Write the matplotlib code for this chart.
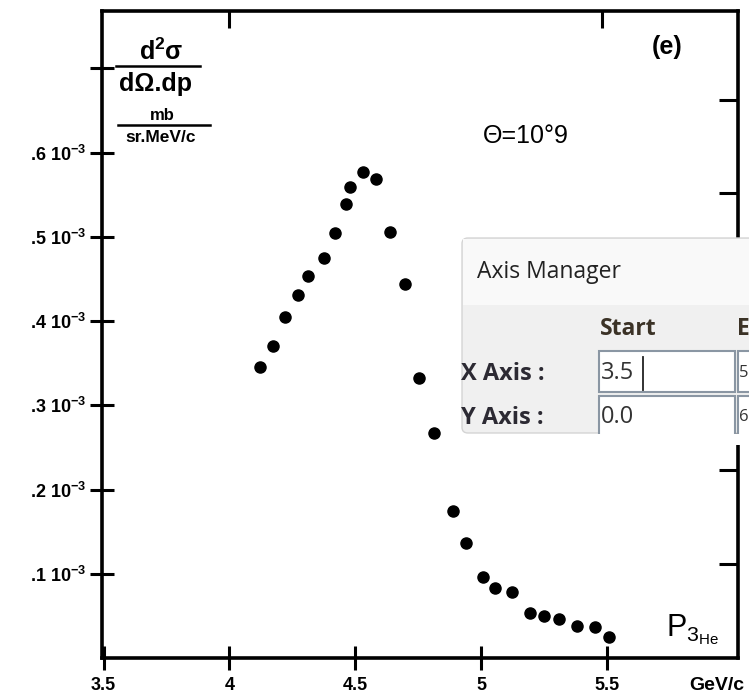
import matplotlib.pyplot as plt
from matplotlib.patches import Rectangle, FancyBboxPatch
from matplotlib.lines import Line2D

# momentum of 3He (GeV/c) and cross section (units of 1e-3 mb/sr.MeV/c)
p_he = [4.123, 4.175, 4.222, 4.274, 4.313, 4.377, 4.421, 4.464, 4.480, 4.532,
        4.583, 4.639, 4.698, 4.754, 4.813, 4.889, 4.940, 5.008, 5.056, 5.123,
        5.194, 5.250, 5.310, 5.381, 5.452, 5.508]
xsec = [0.346, 0.370, 0.405, 0.431, 0.453, 0.475, 0.505, 0.539, 0.559, 0.577,
        0.568, 0.506, 0.444, 0.332, 0.267, 0.175, 0.137, 0.096, 0.083, 0.078,
        0.053, 0.050, 0.046, 0.038, 0.037, 0.025]

x_ticks = [3.5, 4, 4.5, 5, 5.5]
x_labels = ['3.5', '4', '4.5', '5', '5.5']
y_ticks = [0.1, 0.2, 0.3, 0.4, 0.5, 0.6]
y_labels = ['.1 10$^{-3}$', '.2 10$^{-3}$', '.3 10$^{-3}$',
            '.4 10$^{-3}$', '.5 10$^{-3}$', '.6 10$^{-3}$']

plt.rcParams['font.family'] = ['Liberation Sans', 'DejaVu Sans']
plt.rcParams['mathtext.fontset'] = 'custom'
plt.rcParams['mathtext.rm'] = 'Liberation Sans:bold'
plt.rcParams['mathtext.it'] = 'Liberation Sans:bold'

W, H = 749, 697
fig = plt.figure(figsize=(W / 100, H / 100), dpi=100)


def fx(x):
    return x / W


def fy(y):
    return 1 - y / H


ax = fig.add_axes([fx(102), fy(658), fx(738) - fx(102), fy(11) - fy(658)])
ax.scatter(p_he, xsec, s=64, color='black', zorder=3)

ax.set_xlim(3.494, 6.02)
ax.set_ylim(0, 0.768)
ax.set_xticks(x_ticks)
ax.set_xticklabels(x_labels, fontsize=13, fontweight='bold')
ax.set_yticks(y_ticks + [0.7])
ax.set_yticklabels(y_labels + [''], fontsize=13, fontweight='bold')
ax.tick_params(axis='both', direction='inout', length=17, width=2.2, pad=3)
ax.tick_params(axis='x', pad=5)
for s in ax.spines.values():
    s.set_linewidth(2.6)

# ticks on the right and top spines
rt = ax.twinx()
rt.set_ylim(ax.get_ylim())
rt.set_yticks([0.111, 0.223, 0.552, 0.662])
rt.set_yticklabels([])
rt.tick_params(direction='in', length=14, width=2.2)
tp = ax.twiny()
tp.set_xlim(ax.get_xlim())
tp.set_xticks([4.0, 5.48])
tp.set_xticklabels([])
tp.tick_params(direction='in', length=12, width=2.2)
for a in (rt, tp):
    for s in a.spines.values():
        s.set_visible(False)

# y label as stacked fractions
fig.text(fx(161), fy(52), 'd$^2$σ', ha='center', va='center', fontsize=18, fontweight='bold')
fig.add_artist(Line2D([fx(116), fx(200)], [fy(66), fy(66)], color='black', lw=1.8))
fig.text(fx(156), fy(84), 'dΩ.dp', ha='center', va='center', fontsize=18, fontweight='bold')
fig.text(fx(162), fy(116), 'mb', ha='center', va='center', fontsize=12, fontweight='bold')
fig.add_artist(Line2D([fx(118), fx(210)], [fy(125), fy(125)], color='black', lw=1.8))
fig.text(fx(161), fy(138), 'sr.MeV/c', ha='center', va='center', fontsize=12.5, fontweight='bold')

fig.text(fx(526), fy(136), 'Θ=10°9', ha='center', va='center', fontsize=18)
fig.text(fx(667), fy(47), '(e)', ha='center', va='center', fontsize=18, fontweight='bold')
fig.text(fx(693), fy(630), r'$\mathregular{P_{3_{He}}}$', ha='center', va='center', fontsize=22)
fig.text(fx(717), fy(685), 'GeV/c', ha='center', va='center', fontsize=14, fontweight='bold')

# Axis Manager window laid over the scan
win = ['Open Sans', 'DejaVu Sans']
fig.add_artist(FancyBboxPatch((fx(462), fy(433)), fx(760) - fx(462), fy(238) - fy(433),
                              boxstyle='round,pad=0,rounding_size=0.008',
                              facecolor='#f0f0f0', edgecolor='#d4d4d4', lw=1, zorder=5))
fig.add_artist(Rectangle((fx(463), fy(305)), fx(760) - fx(463), fy(239) - fy(305),
                         facecolor='#f9f9f9', edgecolor='none', zorder=5))
fig.text(fx(477), fy(272), 'Axis Manager', ha='left', va='center', fontsize=16.5,
         color='#222222', family=win, zorder=6)
fig.text(fx(600), fy(329), 'Start', ha='left', va='center', fontsize=16.5,
         color='#3b3226', fontweight='bold', family=win, zorder=6)
fig.text(fx(737), fy(329), 'E', ha='left', va='center', fontsize=16.5,
         color='#3b3226', fontweight='bold', family=win, zorder=6)
fig.text(fx(461), fy(374), 'X Axis :', ha='left', va='center', fontsize=17,
         color='#2c2a33', fontweight='bold', family=win, zorder=6)
fig.text(fx(461), fy(418), 'Y Axis :', ha='left', va='center', fontsize=17,
         color='#2c2a33', fontweight='bold', family=win, zorder=6)
for (x0, x1) in [(599, 735), (738, 760)]:
    fig.add_artist(Rectangle((fx(x0), fy(392)), fx(x1) - fx(x0), fy(351) - fy(392),
                             facecolor='white', edgecolor='#8a96a3', lw=1.5, zorder=6))
    fig.add_artist(Rectangle((fx(x0), fy(440)), fx(x1) - fx(x0), fy(396) - fy(440),
                             facecolor='white', edgecolor='#8a96a3', lw=1.5, zorder=6))
fig.add_artist(Rectangle((fx(462), fy(445)), fx(760) - fx(462), fy(434) - fy(445),
                         facecolor='white', edgecolor='none', zorder=7))
fig.text(fx(601), fy(373), '3.5', ha='left', va='center', fontsize=17,
         color='#333333', family=win, zorder=8)
fig.add_artist(Line2D([fx(643), fx(643)], [fy(357), fy(390)], color='#222222', lw=1.3, zorder=8))
fig.text(fx(739), fy(373), '5', ha='left', va='center', fontsize=12,
         color='#333333', family=win, zorder=8)
fig.text(fx(601), fy(417), '0.0', ha='left', va='center', fontsize=17,
         color='#333333', family=win, zorder=8)
fig.text(fx(739), fy(417), '6', ha='left', va='center', fontsize=12,
         color='#333333', family=win, zorder=8)

fig.savefig('out.png', dpi=100)
